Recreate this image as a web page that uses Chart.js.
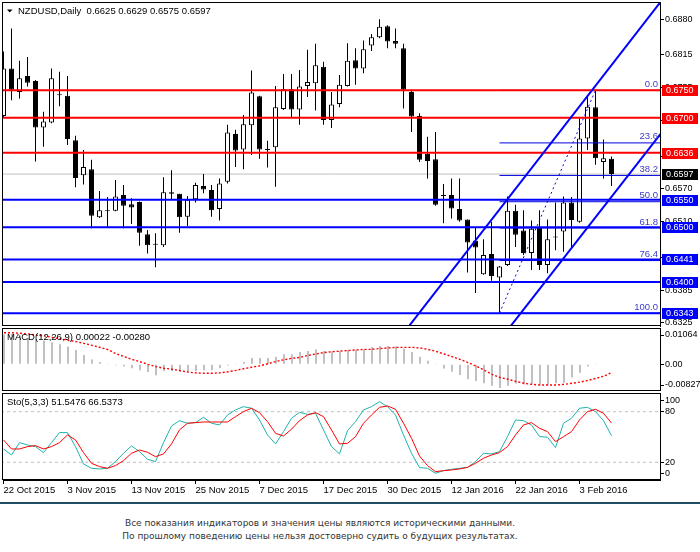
<!DOCTYPE html>
<html><head><meta charset="utf-8">
<script src="https://cdn.jsdelivr.net/npm/chart.js@4.4.0/dist/chart.umd.min.js"></script>
<style>
html,body{margin:0;padding:0;background:#fff;width:700px;height:552px;overflow:hidden;}
canvas{position:absolute;left:0;}
#sep{position:absolute;left:0;top:502px;width:700px;height:2px;background:#1f4c60;}
#foot{position:absolute;left:0;width:640px;top:517px;text-align:center;font-family:"DejaVu Sans",sans-serif;font-size:9px;color:#333;line-height:12.5px;}
</style></head><body>
<canvas id="cMain" width="700" height="328" style="top:0"></canvas>
<canvas id="cMacd" width="700" height="65" style="top:326px"></canvas>
<canvas id="cSto" width="700" height="113" style="top:391px"></canvas>
<div id="sep"></div>
<div id="foot">Все показания индикаторов и значения цены являются историческими данными.<br>По прошлому поведению цены нельзя достоверно судить о будущих результатах.</div>
<script>
// ================= DATA =================
const symbolTitle = 'NZDUSD,Daily';
const dateTickIdx = [0, 8, 16, 24, 32, 40, 48, 56, 64, 72];
const dateLabels = ['22 Oct 2015','3 Nov 2015','13 Nov 2015','25 Nov 2015','7 Dec 2015','17 Dec 2015','30 Dec 2015','12 Jan 2016','22 Jan 2016','3 Feb 2016'];

const open = [
 0.6703,0.6790,0.6747,0.6776,0.6767,0.6682,0.6691,0.6742,0.6740,0.6659,
 0.6595,0.6606,0.6518,0.6529,0.6530,0.6559,0.6542,0.6546,0.6487,0.6469,
 0.6467,0.6564,0.6561,0.6519,0.6551,0.6575,0.6568,0.6533,0.6583,0.6670,
 0.6642,0.6686,0.6739,0.6641,0.6646,0.6716,0.6752,0.6715,0.6758,0.6763,
 0.6793,0.6696,0.6725,0.6758,0.6805,0.6790,0.6832,0.6847,0.6867,0.6840,
 0.6827,0.6747,0.6703,0.6634,0.6624,0.6558,0.6559,0.6533,0.6514,0.6475,
 0.6414,0.6451,0.6408,0.6431,0.6530,0.6494,0.6453,0.6500,0.6431,0.6481,
 0.6492,0.6545,0.6510,0.6662,0.6719,0.6619,0.6625];
const high = [
 0.6821,0.6863,0.6804,0.6811,0.6769,0.6711,0.6790,0.6784,0.6776,0.6667,
 0.6641,0.6623,0.6566,0.6555,0.6586,0.6577,0.6553,0.6547,0.6495,0.6489,
 0.6591,0.6604,0.6561,0.6557,0.6581,0.6597,0.6577,0.6589,0.6687,0.6678,
 0.6705,0.6786,0.6740,0.6658,0.6758,0.6780,0.6780,0.6787,0.6824,0.6835,
 0.6802,0.6747,0.6778,0.6836,0.6827,0.6841,0.6853,0.6880,0.6869,0.6863,
 0.6835,0.6751,0.6708,0.6665,0.6674,0.6579,0.6589,0.6589,0.6514,0.6501,
 0.6478,0.6510,0.6429,0.6556,0.6541,0.6531,0.6512,0.6531,0.6514,0.6545,
 0.6556,0.6555,0.6699,0.6738,0.6750,0.6660,0.6629];
const low = [
 0.6701,0.6732,0.6735,0.6757,0.6620,0.6647,0.6690,0.6721,0.6650,0.6573,
 0.6578,0.6498,0.6517,0.6501,0.6529,0.6498,0.6506,0.6466,0.6452,0.6427,
 0.6464,0.6551,0.6490,0.6502,0.6545,0.6562,0.6519,0.6512,0.6580,0.6610,
 0.6606,0.6632,0.6625,0.6609,0.6574,0.6714,0.6701,0.6687,0.6738,0.6713,
 0.6687,0.6681,0.6719,0.6757,0.6760,0.6781,0.6822,0.6845,0.6827,0.6827,
 0.6717,0.6674,0.6619,0.6589,0.6539,0.6507,0.6516,0.6510,0.6417,0.6380,
 0.6413,0.6402,0.6343,0.6429,0.6464,0.6449,0.6422,0.6422,0.6416,0.6458,
 0.6455,0.6464,0.6508,0.6641,0.6614,0.6589,0.6575];
const close = [
 0.6790,0.6751,0.6772,0.6764,0.6682,0.6693,0.6772,0.6741,0.6661,0.6590,
 0.6610,0.6521,0.6531,0.6530,0.6556,0.6539,0.6536,0.6490,0.6467,0.6468,
 0.6564,0.6561,0.6518,0.6550,0.6577,0.6569,0.6531,0.6580,0.6673,0.6640,
 0.6688,0.6746,0.6642,0.6642,0.6719,0.6752,0.6715,0.6757,0.6765,0.6796,
 0.6696,0.6724,0.6760,0.6804,0.6790,0.6825,0.6847,0.6866,0.6839,0.6835,
 0.6751,0.6702,0.6623,0.6621,0.6541,0.6557,0.6534,0.6512,0.6472,0.6463,
 0.6449,0.6411,0.6428,0.6530,0.6486,0.6453,0.6497,0.6431,0.6478,0.6482,
 0.6545,0.6513,0.6662,0.6720,0.6626,0.6626,0.6597];

const redLevels = [0.6750, 0.6700, 0.6636];
const blueLevels = [0.6550, 0.6500, 0.6441, 0.6400, 0.6343];
const lastPrice = 0.6597;
const priceTicks = [0.6880, 0.6815, 0.6755, 0.6695, 0.6630, 0.6570, 0.6510, 0.6445, 0.6385, 0.6325];

const fibRatios = [0, 23.6, 38.2, 50, 61.8, 76.4, 100];
const fibHigh = 0.6750, fibLow = 0.6343;
const fibStartIdx = 62, fibEndIdx = 74;
const channelUpper = [[51.44, 0.63335], [82.06, 0.69101]];
const channelLower = [[64.15, 0.63335], [80.40, 0.66379]];

const macdMain = [
 0.0104,0.01064,0.0100,0.0092,0.0088,0.0083,0.0076,0.0070,0.0062,0.0050,
 0.0032,0.0017,0.0008,0.0003,-0.0003,-0.0008,-0.0014,-0.0021,-0.0027,-0.0038,
 -0.0023,-0.0023,-0.0026,-0.0026,-0.0023,-0.0021,-0.0021,-0.0013,-0.0004,0.0001,
 0.0008,0.0022,0.0022,0.0022,0.0026,0.0035,0.0035,0.0043,0.0046,0.0052,
 0.0046,0.0045,0.0046,0.0050,0.0050,0.0052,0.0060,0.0064,0.0064,0.0062,
 0.0055,0.0043,0.0026,0.0012,-0.0001,-0.0015,-0.0026,-0.0037,-0.0052,-0.0058,
 -0.0066,-0.0075,-0.00827,-0.0075,-0.0067,-0.0070,-0.0070,-0.0073,-0.0073,-0.0066,
 -0.0064,-0.0046,-0.0029,-0.0008,-0.0002,0.0000,0.00022];
const macdSignal = [
 0.0110,0.0110,0.0108,0.0106,0.0102,0.0099,0.0094,0.0089,0.0084,0.0079,
 0.0073,0.0066,0.0059,0.0051,0.0037,0.0027,0.0017,0.0009,0.0000,-0.0008,
 -0.0014,-0.0017,-0.0022,-0.0027,-0.0030,-0.0031,-0.0031,-0.0030,-0.0026,-0.0021,
 -0.0015,-0.0010,-0.0005,0.0002,0.0010,0.0016,0.0021,0.0024,0.0031,0.0036,
 0.0041,0.0044,0.0046,0.0048,0.0050,0.0052,0.0052,0.0055,0.0057,0.0059,
 0.0059,0.0059,0.0057,0.0052,0.0045,0.0036,0.0027,0.0017,0.0006,-0.0006,
 -0.0020,-0.0035,-0.0046,-0.0052,-0.0060,-0.0066,-0.0070,-0.0072,-0.0072,-0.0072,
 -0.0070,-0.0066,-0.0062,-0.0056,-0.0049,-0.0041,-0.00280];
const macdTicks = [0.01064, 0, -0.00827];

const stochK = [
 35.8,28.7,43.3,40.6,38.6,31.5,43.3,55.2,55.2,38.6,
 18.0,12.9,12.1,12.9,20.8,30.7,39.4,32.7,23.6,20.8,
 43.3,63.1,69.4,66.3,67.1,73.4,66.3,64.3,76.1,82.1,
 86.0,84.1,70.2,52.4,41.8,56.4,72.2,79.3,76.9,78.1,
 58.4,38.6,29.9,57.6,68.2,82.1,86.0,91.9,86.0,76.1,
 52.4,30.7,13.7,12.9,7.0,10.1,11.7,12.9,14.0,20.8,
 30.7,29.9,32.7,50.5,70.2,69.4,64.3,50.5,49.7,37.4,
 66.3,72.2,84.1,85.2,80.1,69.4,51.5476];
const stochD = [
 46.5,35.8,35.8,38.6,39.8,35.8,38.6,43.3,52.4,46.5,
 31.5,18.8,14.9,12.9,16.1,22.0,30.7,34.6,31.9,26.7,
 29.9,41.8,58.4,66.3,67.1,67.8,67.8,67.8,67.8,74.1,
 80.1,84.1,78.9,68.2,54.4,51.2,59.2,69.4,76.1,78.9,
 74.1,58.4,41.8,42.5,50.4,66.3,76.1,85.2,86.8,82.9,
 66.3,48.5,27.5,16.1,8.9,10.1,10.9,12.1,14.0,18.8,
 24.8,28.7,31.5,38.6,52.4,64.3,67.1,60.3,56.4,44.5,
 50.4,56.4,70.2,80.1,82.9,78.1,66.5373];
const stochTicks = [100, 80, 20, 0];
const stochLevels = [80, 20];

// ================= STYLE / HELPERS =================
const FONT = '"Liberation Sans", Arial, sans-serif';
Chart.defaults.font.family = FONT;
Chart.defaults.font.size = 9;
Chart.defaults.color = '#000';
Chart.defaults.animation = false;
Chart.defaults.events = [];
Chart.defaults.plugins.legend.display = false;
Chart.defaults.plugins.tooltip.enabled = false;

const xMin = -0.0625, xMax = xMin + 657 / 8;
const idx = open.map((_, i) => i);
const RED = '#ff0000', BLUE = '#0000ff', FIBC = '#3c3cc8';

function lineDs(pts, color, width, dash, order) {
  return {type: 'line', data: pts.map(([x, y]) => ({x, y})), borderColor: color, borderWidth: width,
    borderDash: dash || [], pointRadius: 0, fill: false, tension: 0, clip: 0, order};
}
function extend(p) {
  const k = (p[1][1] - p[0][1]) / (p[1][0] - p[0][0]);
  const at = x => p[0][1] + k * (x - p[0][0]);
  return [[xMin - 1, at(xMin - 1)], [xMax + 1, at(xMax + 1)]];
}
function noPad(s) { s.paddingTop = 0; s.paddingBottom = 0; s.paddingLeft = 0; s.paddingRight = 0; }
const frame = {
  id: 'frame',
  afterDraw(chart) {
    const {ctx, chartArea: a} = chart;
    ctx.save(); ctx.strokeStyle = '#000'; ctx.lineWidth = 1;
    ctx.strokeRect(Math.round(a.left) - 0.5, Math.round(a.top) - 0.5, Math.round(a.right - a.left) + 1, Math.round(a.bottom - a.top));
    ctx.restore();
  }
};
// right-hand value axis; labels near the panel edges are kept insetPx inside it (MetaTrader style)
function rightAxis(min, max, ticks, fmt, insetPx, panelPx) {
  const inset = insetPx * (max - min) / panelPx;
  return {
    position: 'right', min, max,
    afterBuildTicks(s) {
      s.ticks = ticks.map(v => ({value: Math.min(Math.max(v, min + inset), max - inset)}));
    },
    ticks: {padding: 1, autoSkip: false, callback: (v, i) => fmt(ticks[i])},
    grid: {drawOnChartArea: false, drawTicks: true, tickLength: 4, color: '#000'},
    border: {display: true, color: '#000'},
    afterFit(s) { s.width = 40; noPad(s); }
  };
}
function panelLabel(text, dy) {
  return {
    id: 'plabel', afterDraw(chart) {
      const {ctx, chartArea: a} = chart;
      ctx.save(); ctx.font = '9.5px ' + FONT; ctx.fillStyle = '#000';
      ctx.textBaseline = 'middle'; ctx.textAlign = 'left';
      ctx.fillText(text, 7, a.top + dy); ctx.restore();
    }
  };
}

// ================= MAIN PRICE CHART =================
const n = open.length - 1;
const mainDatasets = [];
redLevels.forEach(v => mainDatasets.push(lineDs([[xMin - 1, v], [xMax + 1, v]], RED, 2, null, 1)));
blueLevels.forEach(v => mainDatasets.push(lineDs([[xMin - 1, v], [xMax + 1, v]], BLUE, 2, null, 1)));
mainDatasets.push(lineDs([[xMin - 1, lastPrice], [xMax + 1, lastPrice]], '#c0c0c0', 1, null, 6));
fibRatios.forEach(r => {
  const v = fibHigh - r / 100 * (fibHigh - fibLow);
  mainDatasets.push(lineDs([[fibStartIdx, v], [xMax + 1, v]], '#0000e0', 1, null, 2));
});
mainDatasets.push(lineDs([[fibStartIdx, fibLow], [fibEndIdx, fibHigh]], BLUE, 1, [2, 3], 2));
mainDatasets.push(lineDs(extend(channelUpper), BLUE, 2, null, 0));
mainDatasets.push(lineDs(extend(channelLower), BLUE, 2, null, 0));
mainDatasets.push({
  type: 'bar', data: idx.map(i => ({x: i, y: [low[i], high[i]]})),
  backgroundColor: '#000', borderWidth: 0, barThickness: 1, grouped: false, inflateAmount: 0, clip: 0, order: 5
});
mainDatasets.push({
  type: 'bar', data: idx.map(i => ({x: i, y: [open[i], close[i]]})),
  backgroundColor: c => close[c.dataIndex] >= open[c.dataIndex] ? '#fff' : '#000',
  borderColor: '#000', borderWidth: 1, borderSkipped: false, barThickness: 5, minBarLength: 1,
  grouped: false, inflateAmount: 0, clip: 0, order: 4
});

const mainPlugins = [frame, {
  id: 'mainText',
  afterDraw(chart) {
    const {ctx, chartArea: a} = chart; const y = chart.scales.y;
    ctx.save();
    ctx.font = '9px ' + FONT;
    // fibonacci level labels
    ctx.fillStyle = FIBC; ctx.textAlign = 'right'; ctx.textBaseline = 'alphabetic';
    ctx.font = '9.5px ' + FONT;
    fibRatios.forEach(r => {
      const v = fibHigh - r / 100 * (fibHigh - fibLow);
      ctx.fillText(r.toFixed(1), a.right - 2, y.getPixelForValue(v) - 3.5);
    });
    // price tags
    ctx.font = '9px ' + FONT;
    const tag = (v, bg) => {
      const py = Math.round(y.getPixelForValue(v));
      ctx.fillStyle = bg; ctx.fillRect(662, py - 5, 36, 11);
      ctx.fillStyle = '#fff'; ctx.textAlign = 'left'; ctx.textBaseline = 'middle';
      ctx.fillText(v.toFixed(4), 666, py + 0.5);
    };
    redLevels.forEach(v => tag(v, RED));
    blueLevels.forEach(v => tag(v, BLUE));
    tag(lastPrice, '#000');
    // title
    ctx.font = '9.5px ' + FONT;
    ctx.fillStyle = '#000';
    ctx.beginPath(); ctx.moveTo(7, 9.5); ctx.lineTo(12.5, 9.5); ctx.lineTo(9.75, 12.5); ctx.closePath(); ctx.fill();
    ctx.textAlign = 'left'; ctx.textBaseline = 'middle';
    ctx.fillText(symbolTitle + '  ' + [open[n], high[n], low[n], close[n]].map(v => v.toFixed(4)).join(' '), 18, a.top + 8);
    ctx.restore();
  }
}];

new Chart(document.getElementById('cMain'), {
  type: 'bar',
  data: {datasets: mainDatasets},
  options: {
    responsive: false,
    layout: {padding: {left: 3, top: 3, right: 0, bottom: 2}},
    scales: {
      x: {type: 'linear', min: xMin, max: xMax, offset: false, display: false},
      y: rightAxis(0.63195, 0.69095, priceTicks, v => v.toFixed(4), 0, 323)
    }
  },
  plugins: mainPlugins
});

// ================= MACD =================
const fmtMacd = v => v === 0 ? '0.00' : v.toFixed(5);
new Chart(document.getElementById('cMacd'), {
  type: 'bar',
  data: {datasets: [
    {type: 'line', data: macdSignal.map((v, i) => ({x: i, y: v})), borderColor: RED, borderWidth: 1.4,
      borderDash: [2, 2], pointRadius: 0, tension: 0, clip: 0, order: 0},
    {type: 'bar', data: macdMain.map((v, i) => ({x: i, y: v})), backgroundColor: '#c0c0c0',
      barThickness: 2, grouped: false, inflateAmount: 0, clip: 0, order: 1}
  ]},
  options: {
    responsive: false,
    layout: {padding: {left: 3, top: 3, right: 0, bottom: 0}},
    scales: {
      x: {type: 'linear', min: xMin - 0.0625, max: xMax - 0.0625, offset: false, display: false},
      y: rightAxis(-0.0093, 0.0123, macdTicks, fmtMacd, 6, 62)
    }
  },
  plugins: [frame, panelLabel('MACD(12,26,9) ' + fmtMacd(macdMain[n]) + ' ' + fmtMacd(macdSignal[n]), 8)]
});

// ================= STOCHASTIC =================
const stoDatasets = [];
stochLevels.forEach(v => stoDatasets.push(lineDs([[xMin - 1, v], [xMax + 1, v]], '#c0c0c0', 1, [3, 3], 3)));
stoDatasets.push({type: 'line', data: stochK.map((v, i) => ({x: i, y: v})), borderColor: '#20b2aa', borderWidth: 1,
  pointRadius: 0, tension: 0, clip: 0, order: 1});
stoDatasets.push({type: 'line', data: stochD.map((v, i) => ({x: i, y: v})), borderColor: RED, borderWidth: 1,
  pointRadius: 0, tension: 0, clip: 0, order: 0});

new Chart(document.getElementById('cSto'), {
  type: 'line',
  data: {datasets: stoDatasets},
  options: {
    responsive: false,
    layout: {padding: {left: 3, top: 3, right: 0, bottom: 0}},
    scales: {
      x: {
        type: 'linear', min: xMin, max: xMax, offset: false, position: 'bottom',
        afterBuildTicks(s) { s.ticks = dateTickIdx.map(v => ({value: v})); },
        ticks: {callback: (v, i) => dateLabels[i], align: 'start', maxRotation: 0, minRotation: 0,
          autoSkip: false, padding: 1, font: {size: 9.5}},
        grid: {drawOnChartArea: false, drawTicks: true, tickLength: 4, color: '#000'},
        border: {display: true, color: '#000'},
        afterFit(s) { s.height = 24; noPad(s); }
      },
      y: rightAxis(-1, 101, stochTicks, v => String(v), 6.5, 86)
    }
  },
  plugins: [frame, panelLabel('Sto(5,3,3) ' + stochK[n].toFixed(4) + ' ' + stochD[n].toFixed(4), 8.5)]
});
</script>
</body></html>
